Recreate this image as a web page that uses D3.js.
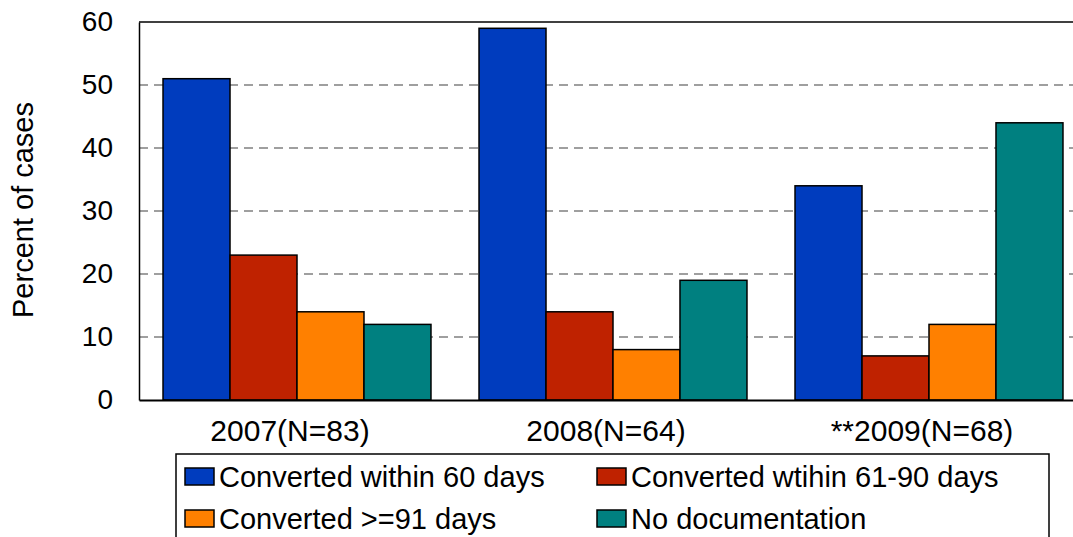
<!DOCTYPE html>
<html>
<head>
<meta charset="utf-8">
<script src="https://cdn.jsdelivr.net/npm/d3@7"></script>
<style>
  html, body { margin: 0; padding: 0; background: #fff; }
  svg { display: block; font-family: Arial, "Liberation Sans", sans-serif; }
</style>
</head>
<body>
<svg id="chart" width="1073" height="537"></svg>
<script>
// Categories (years with sample sizes)
const categories = ["2007(N=83)", "2008(N=64)", "**2009(N=68)"];

// Series names and their percentages per year
const seriesNames = [
  "Converted within 60 days",
  "Converted wtihin 61-90 days",
  "Converted >=91 days",
  "No documentation"
];
const within60 = [51, 59, 34];
const within61to90 = [23, 14, 7];
const over91 = [14, 8, 12];
const noDocumentation = [12, 19, 44];

const seriesColors = ["#003CBE", "#BF2200", "#FF8000", "#008080"];
const yTicks = [0, 10, 20, 30, 40, 50, 60];
const yTitle = "Percent of cases";

const seriesValues = [within60, within61to90, over91, noDocumentation];
const rows = categories.map((c, i) => ({
  category: c,
  values: seriesNames.map((s, j) => ({ series: s, idx: j, value: seriesValues[j][i] }))
}));

const svg = d3.select("#chart");
const margin = { left: 139, top: 22 };
const plotW = 948, plotH = 378;

const x0 = d3.scaleBand().domain(categories).range([0, plotW]).paddingInner(0.152).paddingOuter(0.076);
const x1 = d3.scaleBand().domain(d3.range(seriesNames.length)).range([0, x0.bandwidth()]);
const y = d3.scaleLinear().domain([0, 60]).range([plotH, 0]);

const g = svg.append("g").attr("transform", `translate(${margin.left},${margin.top})`);

// Dashed gridlines
g.append("g").selectAll("line")
  .data(yTicks.filter(t => t > 0 && t < 60))
  .join("line")
  .attr("x1", 0).attr("x2", plotW)
  .attr("y1", d => y(d)).attr("y2", d => y(d))
  .attr("stroke", "#808080").attr("stroke-width", 1.6)
  .attr("stroke-dasharray", "9,6");

// Top border
g.append("line").attr("x1", 0).attr("x2", plotW).attr("y1", 0).attr("y2", 0)
  .attr("stroke", "#000").attr("stroke-width", 1.5);

// Bars
g.append("g").selectAll("g")
  .data(rows)
  .join("g")
  .attr("transform", d => `translate(${x0(d.category)},0)`)
  .selectAll("rect")
  .data(d => d.values)
  .join("rect")
  .attr("x", d => x1(d.idx))
  .attr("width", x1.bandwidth())
  .attr("y", d => y(d.value))
  .attr("height", d => y(0) - y(d.value))
  .attr("fill", d => seriesColors[d.idx])
  .attr("stroke", "#000").attr("stroke-width", 1.5);

// Y axis
const yAxis = g.append("g")
  .call(d3.axisLeft(y).tickValues(yTicks).tickSize(0).tickPadding(26).tickFormat(d3.format("d")));
yAxis.select(".domain").attr("stroke", "#000").attr("stroke-width", 1.5);
yAxis.selectAll("text").attr("font-size", 28).attr("fill", "#000")
  .attr("font-family", "Arial, 'Liberation Sans', sans-serif");

// X axis
const xAxis = g.append("g").attr("transform", `translate(0,${plotH})`)
  .call(d3.axisBottom(x0).tickSize(0).tickPadding(20));
xAxis.select(".domain").attr("stroke", "#000").attr("stroke-width", 2);
xAxis.selectAll("text").attr("font-size", 30).attr("fill", "#000").attr("dx", -7)
  .attr("font-family", "Arial, 'Liberation Sans', sans-serif");

// Y title
svg.append("text")
  .attr("transform", "translate(33,210) rotate(-90)")
  .attr("text-anchor", "middle")
  .attr("font-size", 29)
  .text(yTitle);

// Legend
const legend = svg.append("g");
legend.append("rect")
  .attr("x", 176).attr("y", 454).attr("width", 873).attr("height", 120)
  .attr("fill", "#fff").attr("stroke", "#000").attr("stroke-width", 1.5);
const legendPos = [[185, 468], [597, 468], [185, 510], [597, 510]];
const items = legend.selectAll("g.item")
  .data(seriesNames)
  .join("g")
  .attr("class", "item")
  .attr("transform", (d, i) => `translate(${legendPos[i][0]},${legendPos[i][1]})`);
items.append("rect")
  .attr("width", 29).attr("height", 17)
  .attr("fill", (d, i) => seriesColors[i])
  .attr("stroke", "#000").attr("stroke-width", 1.5);
items.append("text")
  .attr("x", 34).attr("y", 19)
  .attr("font-size", 29)
  .text(d => d);
</script>
</body>
</html>
